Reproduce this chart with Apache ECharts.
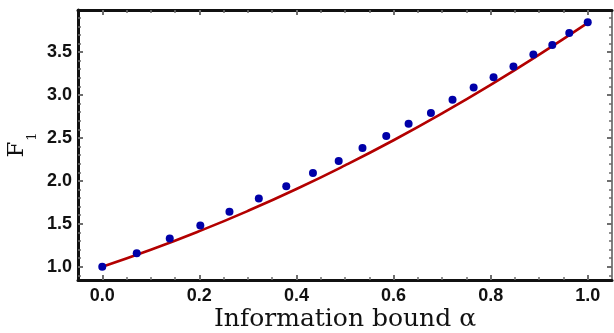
<!DOCTYPE html>
<html>
<head>
<meta charset="utf-8">
<script src="https://cdn.jsdelivr.net/npm/echarts@6/dist/echarts.min.js"></script>
<style>
  html, body { margin: 0; padding: 0; background: #fff; }
  #chart { width: 614px; height: 333px; }
</style>
</head>
<body>
<div id="chart"></div>
<script>
// simulated points (blue dots)
const alphaPts = [0, 0.071, 0.139, 0.202, 0.262, 0.3225, 0.379, 0.434, 0.487, 0.536, 0.585,
  0.631, 0.677, 0.7215, 0.765, 0.806, 0.847, 0.888, 0.927, 0.962, 1.0];
const f1Pts = [1.0, 1.157, 1.328, 1.48, 1.641, 1.793, 1.936, 2.09, 2.23, 2.383, 2.523,
  2.664, 2.79, 2.945, 3.086, 3.208, 3.332, 3.473, 3.583, 3.723, 3.848];

const curveAlpha = [0, 0.1, 0.2, 0.3, 0.4, 0.5, 0.6, 0.7, 0.8, 0.9, 1.0];
const curveF1 = [1.0, 1.197, 1.414, 1.65, 1.905, 2.18, 2.473, 2.786, 3.118, 3.47, 3.84];

// tick positions
const xMajor = [0, 0.2, 0.4, 0.6, 0.8, 1.0];
const xMinor = [0.05, 0.1, 0.15, 0.25, 0.3, 0.35, 0.45, 0.5, 0.55, 0.65, 0.7, 0.75,
  0.85, 0.9, 0.95];
const yMajor = [1.0, 1.5, 2.0, 2.5, 3.0, 3.5];
const yMinor = [0.9, 1.1, 1.2, 1.3, 1.4, 1.6, 1.7, 1.8, 1.9, 2.1, 2.2, 2.3, 2.4,
  2.6, 2.7, 2.8, 2.9, 3.1, 3.2, 3.3, 3.4, 3.6, 3.7, 3.8, 3.9];

const X_MIN = -0.05, X_MAX = 1.05;
const Y_MIN = 0.845, Y_MAX = 3.99;

const tickGray = '#6e6e6e';
const frameBlack = '#111';

function axisDef(position, min, max, opts) {
  const base = {
    type: 'value', position: position, min: min, max: max,
    axisLine: { show: false, onZero: false },
    axisTick: { show: false },
    axisLabel: { show: false },
    splitLine: { show: false }
  };
  const out = Object.assign(base, opts);
  out.axisLine = Object.assign({ onZero: false }, out.axisLine);
  return out;
}
const xAxisDef = (pos, opts) => axisDef(pos, X_MIN, X_MAX, opts);
const yAxisDef = (pos, opts) => axisDef(pos, Y_MIN, Y_MAX, opts);

const labelStyle = {
  fontFamily: 'Liberation Sans, Arial, sans-serif',
  fontWeight: 'bold',
  fontSize: 18,
  color: '#111'
};

const majorTick = vals => ({ show: true, inside: true, length: 5, customValues: vals,
  lineStyle: { color: tickGray, width: 2 } });
const minorTick = vals => ({ show: true, inside: true, length: 3, customValues: vals,
  lineStyle: { color: tickGray, width: 1.5 } });

const chart = echarts.init(document.getElementById('chart'), null, { renderer: 'canvas' });

chart.setOption({
  animation: false,
  backgroundColor: '#fff',
  grid: { left: 78, right: 2, top: 10, bottom: 53, outerBoundsMode: 'none', containLabel: false },
  xAxis: [
    xAxisDef('bottom', {
      axisLine: { show: true, lineStyle: { color: frameBlack, width: 3 } },
      axisTick: majorTick(xMajor),
      axisLabel: Object.assign({ show: true, margin: 7, customValues: xMajor,
        formatter: v => v.toFixed(1) }, labelStyle),
      name: 'Information bound α',
      nameLocation: 'middle',
      nameGap: 27,
      nameMoveOverlap: false,
      nameTextStyle: { fontFamily: 'DejaVu Serif, serif', fontSize: 25, color: '#111' }
    }),
    xAxisDef('bottom', { axisTick: minorTick(xMinor) }),
    xAxisDef('top', {
      axisLine: { show: true, lineStyle: { color: frameBlack, width: 3 } },
      axisTick: majorTick(xMajor)
    }),
    xAxisDef('top', { axisTick: minorTick(xMinor) })
  ],
  yAxis: [
    yAxisDef('left', {
      axisLine: { show: true, lineStyle: { color: frameBlack, width: 3 } },
      axisTick: majorTick(yMajor),
      axisLabel: Object.assign({ show: true, margin: 6, customValues: yMajor,
        formatter: v => v.toFixed(1) }, labelStyle),
      name: '{f|F}{s|1}',
      nameLocation: 'middle',
      nameRotate: 90,
      nameGap: 39,
      nameMoveOverlap: false,
      nameTextStyle: {
        rich: {
          f: { fontFamily: 'DejaVu Serif, serif', fontSize: 23, color: '#111' },
          s: { fontFamily: 'DejaVu Serif, serif', fontSize: 13, color: '#111', padding: [30, 0, 0, 1] }
        }
      }
    }),
    yAxisDef('left', { axisTick: minorTick(yMinor) }),
    yAxisDef('right', {
      axisLine: { show: true, lineStyle: { color: '#555', width: 1.5 } },
      axisTick: majorTick(yMajor)
    }),
    yAxisDef('right', { axisTick: minorTick(yMinor) })
  ],
  series: [
    {
      type: 'line',
      xAxisIndex: 0, yAxisIndex: 0,
      data: curveAlpha.map((a, i) => [a, curveF1[i]]),
      smooth: true,
      showSymbol: false,
      lineStyle: { color: '#b30000', width: 2.6 },
      z: 2
    },
    {
      type: 'scatter',
      xAxisIndex: 0, yAxisIndex: 0,
      data: alphaPts.map((a, i) => [a, f1Pts[i]]),
      symbolSize: 8,
      itemStyle: { color: '#0000a8', opacity: 1 },
      z: 3
    }
  ]
});
</script>
</body>
</html>
